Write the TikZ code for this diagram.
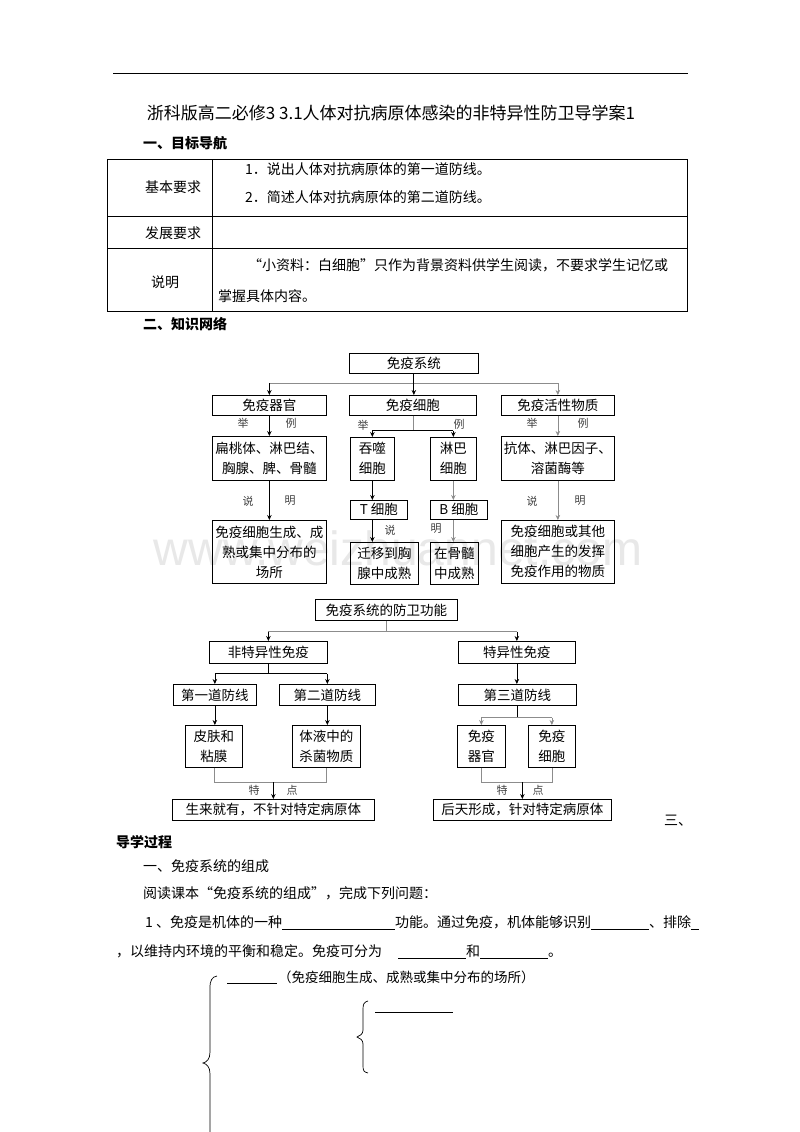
\documentclass[tikz,border=0pt]{standalone}
\usepackage{fontspec}
\setmainfont{Noto Sans CJK SC}
\newfontfamily\wmfont{Liberation Sans}
\usetikzlibrary{arrows.meta}
\newcommand\blank[1]{\rule[-2.5pt]{#1}{0.6pt}}

\begin{document}
\begin{tikzpicture}[x=1pt,y=-1pt,
  box/.style={draw, line width=0.7pt, inner sep=1pt, align=center, anchor=north west,
    font=\fontsize{13.5}{20}\selectfont},
  tag/.style={inner sep=0pt, text=black!75, font=\fontsize{11}{11}\selectfont},
  txt/.style={anchor=base west, inner sep=0pt, font=\fontsize{14}{14}\selectfont},
  head/.style={anchor=base west, inner sep=0pt, font=\fontsize{14}{14}\selectfont\bfseries},
  arr/.style={-{Stealth[length=5pt,width=4.5pt]}, line width=0.7pt},
  grayline/.style={draw=black!45, line width=0.7pt}]
      \fill[white] (0,0) rectangle (800,1132);
      \useasboundingbox (0,0) rectangle (800,1132);
      \node[text=black!9, font=\wmfont\fontsize{48}{48}\selectfont] (mark) at (398,548) {www.weizhuannet.com};

      \draw[line width=0.9pt] (113,73) -- (688,73);
      \node[txt, anchor=base, font=\fontsize{17}{17}\selectfont] (title) at (391,119) {浙科版高二必修3 3.1人体对抗病原体感染的非特异性防卫导学案1};
      \node[head] (aims) at (143,148) {一、目标导航};

      \draw[line width=0.7pt] (107,159) rectangle (687,311);
      \draw[line width=0.7pt] (212,159) -- (212,311);
      \draw[line width=0.7pt] (107,216) -- (687,216);
      \draw[line width=0.7pt] (107,248) -- (687,248);
      \node[txt] (basic) at (145,192) {基本要求};
      \node[txt] (basic1) at (245,174) {1．说出人体对抗病原体的第一道防线。};
      \node[txt] (basic2) at (245,202) {2．简述人体对抗病原体的第二道防线。};
      \node[txt] (devel) at (145,238) {发展要求};
      \node[txt] (note) at (151,287) {说明};
      \node[txt] (note1) at (248,270) {“小资料：白细胞”只作为背景资料供学生阅读，不要求学生记忆或};
      \node[txt] (note2) at (218,301) {掌握具体内容。};

      \node[head] (net) at (143,329) {二、知识网络};

      % immune system
      \node[box, minimum width=129pt, minimum height=20pt] (sys) at (349,353) {免疫系统};
      \node[box, minimum width=114pt, minimum height=20pt] (org) at (212,395) {免疫器官};
      \node[box, minimum width=127pt, minimum height=20pt] (cell) at (349,395) {免疫细胞};
      \node[box, minimum width=113pt, minimum height=20pt] (act) at (501,395) {免疫活性物质};
      \node[box, minimum width=114pt, minimum height=44pt] (orgex) at (212,436) {扁桃体、淋巴结、\\胸腺、脾、骨髓};
      \node[box, minimum width=44pt, minimum height=43pt] (phago) at (350,437) {吞噬\\细胞};
      \node[box, minimum width=46pt, minimum height=43pt] (lymph) at (430,437) {淋巴\\细胞};
      \node[box, minimum width=113pt, minimum height=44pt] (actex) at (501,436) {抗体、淋巴因子、\\溶菌酶等};
      \node[box, minimum width=57pt, minimum height=19pt] (tcell) at (350,500) {T 细胞};
      \node[box, minimum width=57pt, minimum height=19pt] (bcell) at (430,500) {B 细胞};
      \node[box, minimum width=114pt, minimum height=63pt] (orgnote) at (212,520) {免疫细胞生成、成\\熟或集中分布的\\场所};
      \node[box, minimum width=68pt, minimum height=42pt] (tnote) at (350,542) {迁移到胸\\腺中成熟};
      \node[box, minimum width=48pt, minimum height=42pt] (bnote) at (430,542) {在骨髓\\中成熟};
      \node[box, minimum width=113pt, minimum height=63pt] (actnote) at (501,520) {免疫细胞或其他\\细胞产生的发挥\\免疫作用的物质};

      \coordinate (fork) at (0,383);
      \draw[grayline] (org.north |- fork) -- (act.north |- fork);
      \draw[arr] (org.north |- fork) -- (org.north);
      \draw[arr, draw=black!45] (act.north |- fork) -- (act.north);
      \draw[arr, line width=1pt] (sys.south) -- (sys.south |- cell.north);
      \draw[arr] (org) -- (orgex);
      \draw[grayline] (cell.south) -- ++(0,15) coordinate (split);
      \draw[line width=0.7pt] (phago.north |- split) -- (lymph.north |- split);
      \draw[arr] (phago.north |- split) -- (phago.north);
      \draw[arr] (lymph.north |- split) -- (lymph.north);
      \draw[arr, draw=black!45] (act) -- (actex);
      \draw[arr] (orgex) -- (orgnote);
      \draw[arr] (phago.south) -- (phago.south |- tcell.north);
      \draw[arr, draw=black!45] (lymph.south) -- (lymph.south |- bcell.north);
      \draw[arr, draw=black!45] (actex) -- (actnote);
      \draw[arr] (phago.south |- tcell.south) -- (phago.south |- tnote.north);
      \draw[arr, draw=black!45] (lymph.south |- bcell.south) -- (lymph.south |- bnote.north);

      \node[tag] (ju1) at (243,423) {举};
      \node[tag] (li1) at (291,423) {例};
      \node[tag] (ju2) at (363,425) {举};
      \node[tag] (li2) at (459,424) {例};
      \node[tag] (ju3) at (532,423) {举};
      \node[tag] (li3) at (583,423) {例};
      \node[tag] (shuo1) at (248,501) {说};
      \node[tag] (ming1) at (290,501) {明};
      \node[tag] (shuo2) at (390,530) {说};
      \node[tag] (ming2) at (436,529) {明};
      \node[tag] (shuo3) at (532,501) {说};
      \node[tag] (ming3) at (580,501) {明};

      % defence function
      \node[box, minimum width=142pt, minimum height=21pt] (defend) at (315,599) {免疫系统的防卫功能};
      \node[box, minimum width=118pt, minimum height=22pt] (nonspec) at (209,641) {非特异性免疫};
      \node[box, minimum width=117pt, minimum height=22pt] (spec) at (458,641) {特异性免疫};
      \node[box, minimum width=83pt, minimum height=21pt] (first) at (173,684) {第一道防线};
      \node[box, minimum width=96pt, minimum height=21pt] (second) at (279,684) {第二道防线};
      \node[box, minimum width=118pt, minimum height=21pt] (third) at (458,684) {第三道防线};
      \node[box, minimum width=57pt, minimum height=42pt] (skin) at (185,725) {皮肤和\\粘膜};
      \node[box, minimum width=68pt, minimum height=42pt] (fluid) at (292,725) {体液中的\\杀菌物质};
      \node[box, minimum width=48pt, minimum height=42pt] (iorg) at (457,725) {免疫\\器官};
      \node[box, minimum width=47pt, minimum height=42pt] (icell) at (528,725) {免疫\\细胞};
      \node[box, minimum width=202pt, minimum height=21pt] (innate) at (172,799) {生来就有，不针对特定病原体};
      \node[box, minimum width=178pt, minimum height=21pt] (acquired) at (433,799) {后天形成，针对特定病原体};

      \draw[grayline] (defend.south) -- ++(0,11) coordinate (dsplit);
      \draw[grayline] (nonspec.north |- dsplit) -- (spec.north |- dsplit);
      \draw[arr] (nonspec.north |- dsplit) -- (nonspec.north);
      \draw[arr] (spec.north |- dsplit) -- (spec.north);
      \draw[line width=0.7pt] (nonspec.south) -- ++(0,10) coordinate (nsplit);
      \draw[line width=0.7pt] (first.north |- nsplit) -- (second.north |- nsplit);
      \draw[arr] (first.north |- nsplit) -- (first.north);
      \draw[arr] (second.north |- nsplit) -- (second.north);
      \draw[arr] (spec.south) -- (spec.south |- third.north);
      \draw[line width=0.7pt] (third.south) -- ++(0,12) coordinate (tsplit);
      \draw[grayline] (iorg.north |- tsplit) -- (icell.north |- tsplit);
      \draw[arr, draw=black!45] (iorg.north |- tsplit) -- (iorg.north);
      \draw[arr, draw=black!45] (icell.north |- tsplit) -- (icell.north);
      \draw[arr] (first.south) -- (first.south |- skin.north);
      \draw[arr] (second.south) -- (second.south |- fluid.north);

      \coordinate (join) at (0,782);
      \draw[grayline] (skin.south) -- (skin.south |- join) -- (fluid.south |- join) -- (fluid.south);
      \draw[arr] (innate.north |- join) -- (innate.north);
      \draw[grayline] (iorg.south) -- (iorg.south |- join) -- (icell.south |- join) -- (icell.south);
      \draw[arr] (acquired.north |- join) -- (acquired.north);
      \node[tag] (te1) at (254,790) {特};
      \node[tag] (dian1) at (292,790) {点};
      \node[tag] (te2) at (502,790) {特};
      \node[tag] (dian2) at (538,790) {点};

      % guided study
      \node[txt] (three) at (664,825) {三、};
      \node[head] (proc) at (116,847) {导学过程};
      \node[txt] (part1) at (143,871) {一、免疫系统的组成};
      \node[txt] (read) at (143,898) {阅读课本“免疫系统的组成”，完成下列问题：};
      \node[txt] (q1a) at (145,927) {1 、免疫是机体的一种\blank{113pt}功能。通过免疫，机体能够识别\blank{58pt}、排除\blank{8pt}};
      \node[txt] (q1b) at (116,956) {，以维持内环境的平衡和稳定。免疫可分为\hspace{16pt}\blank{68pt}和\blank{68pt}。};

      \draw[line width=0.7pt] (217,976) .. controls (212,977) and (210,980) .. (210,988) -- (210,1052)
        .. controls (210,1059) and (207,1062) .. (203,1063) .. controls (207,1064) and (210,1067) .. (210,1074) -- (210,1132);
      \draw[line width=0.7pt] (227,983) -- (277,983);
      \node[txt, font=\fontsize{13.5}{14}\selectfont] (site) at (278,982) {（免疫细胞生成、成熟或集中分布的场所）};
      \draw[line width=0.7pt] (368,1001) .. controls (364,1002) and (363,1004) .. (363,1009) -- (363,1030)
        .. controls (363,1034) and (360,1036) .. (357,1037) .. controls (360,1038) and (363,1040) .. (363,1044) -- (363,1066)
        .. controls (363,1071) and (364,1072) .. (368,1073);
      \draw[line width=0.7pt] (375,1012) -- (453,1012);
    \end{tikzpicture}
\end{document}
